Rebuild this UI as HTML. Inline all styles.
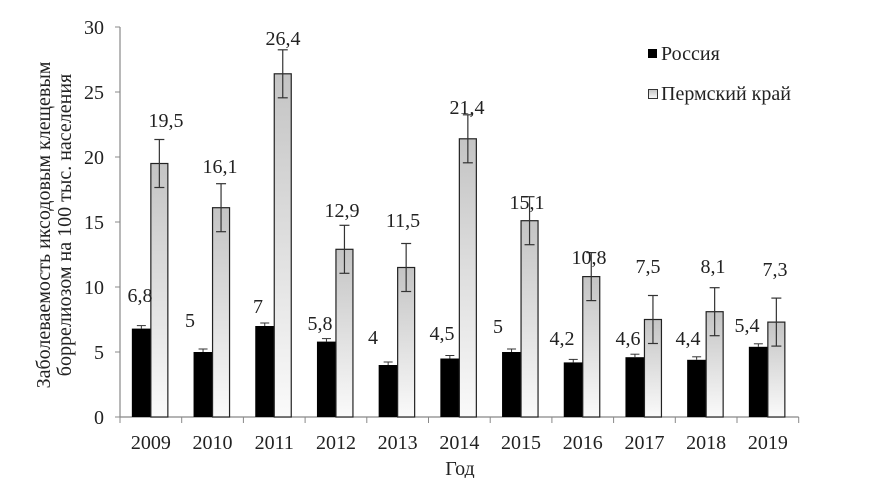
<!DOCTYPE html>
<html><head><meta charset="utf-8"><style>
body{margin:0;background:#fff}
svg{display:block;font-family:"Liberation Serif",serif}
</style></head><body>
<svg id="s" width="871" height="478" viewBox="0 0 871 478" xmlns="http://www.w3.org/2000/svg">
<defs>
<linearGradient id="g" x1="0" y1="0" x2="0" y2="1">
<stop offset="0" stop-color="#c4c4c4"/><stop offset="1" stop-color="#fafafa"/>
</linearGradient>
</defs>
</svg>
<script>
const s=document.getElementById('s');
const NS='http://www.w3.org/2000/svg';
function el(t,a,txt){const e=document.createElementNS(NS,t);for(const k in a)e.setAttribute(k,a[k]);if(txt!==undefined)e.textContent=txt;s.appendChild(e);return e;}
const X0=120,Y0=417,K=13,W=61.7,FS=20;
const ru=[6.8,5,7,5.8,4,4.5,5,4.2,4.6,4.4,5.4];
const pk=[19.5,16.1,26.4,12.9,11.5,21.4,15.1,10.8,7.5,8.1,7.3];
const pkx=[166,220,283,342,403,467,527,589,648,713,775];
const pky=[120,166,38,210,220,107,202,257,266,266,269];
const rux=[140,190,258,320,373,442,498,562,628,688,747];
const ruy=[295,320,306,323,337,333,326,338,338,338,325];
const lab=v=>String(v).replace('.',',');
el('line',{x1:X0,y1:27,x2:X0,y2:Y0,stroke:'#888','stroke-width':1.2});
el('line',{x1:X0,y1:Y0,x2:X0+11*W,y2:Y0,stroke:'#888','stroke-width':1.2});
for(let i=0;i<=6;i++){const y=Y0-i*5*K;el('line',{x1:X0-5,y1:y,x2:X0,y2:y,stroke:'#888'});el('text',{x:104,y:y+7,'text-anchor':'end','font-size':FS,fill:'#222'},String(i*5));}
for(let i=0;i<=11;i++){const x=X0+i*W;el('line',{x1:x,y1:Y0,x2:x,y2:Y0+6,stroke:'#888'});}
for(let i=0;i<11;i++){
 const c=X0+i*W+W/2, bx=c-19;
 const hb=ru[i]*K, hp=pk[i]*K;
 el('rect',{x:bx,y:Y0-hb,width:19,height:hb,fill:'#000'});
 el('line',{x1:bx+9.5,y1:Y0-hb-3,x2:bx+9.5,y2:Y0-hb,stroke:'#333'});
 el('line',{x1:bx+5,y1:Y0-hb-3,x2:bx+14,y2:Y0-hb-3,stroke:'#333'});
 el('rect',{x:c,y:Y0-hp,width:17,height:hp,fill:'url(#g)',stroke:'#222','stroke-width':1.2});
 const e=24,cx=c+8.5;
 el('line',{x1:cx,y1:Y0-hp-e,x2:cx,y2:Y0-hp+e,stroke:'#333','stroke-width':1.2});
 el('line',{x1:cx-5,y1:Y0-hp-e,x2:cx+5,y2:Y0-hp-e,stroke:'#333','stroke-width':1.2});
 el('line',{x1:cx-5,y1:Y0-hp+e,x2:cx+5,y2:Y0-hp+e,stroke:'#333','stroke-width':1.2});
 el('text',{x:pkx[i],y:pky[i]+7,'text-anchor':'middle','font-size':FS,fill:'#222'},lab(pk[i]));
 el('text',{x:rux[i],y:ruy[i]+7,'text-anchor':'middle','font-size':FS,fill:'#222'},lab(ru[i]));
 el('text',{x:c,y:449,'text-anchor':'middle','font-size':FS,fill:'#222'},String(2009+i));
}
el('text',{x:460,y:475,'text-anchor':'middle','font-size':FS,fill:'#222'},'Год');
const g=el('g',{transform:'translate(50,225) rotate(-90)'});
[['Заболеваемость иксодовым клещевым',0],['боррелиозом на 100 тыс. населения',21]].forEach(([t,dy])=>{const e=document.createElementNS(NS,'text');e.setAttribute('x',0);e.setAttribute('y',dy);e.setAttribute('text-anchor','middle');e.setAttribute('font-size',20);e.setAttribute('fill','#222');e.textContent=t;g.appendChild(e);});
el('rect',{x:648,y:49,width:9,height:9,fill:'#000'});
el('text',{x:661,y:60,'font-size':FS,fill:'#222'},'Россия');
el('rect',{x:648.5,y:89.5,width:9,height:9,fill:'url(#g)',stroke:'#333'});
el('text',{x:661,y:100,'font-size':FS,fill:'#222'},'Пермский край');
</script>
</body></html>
